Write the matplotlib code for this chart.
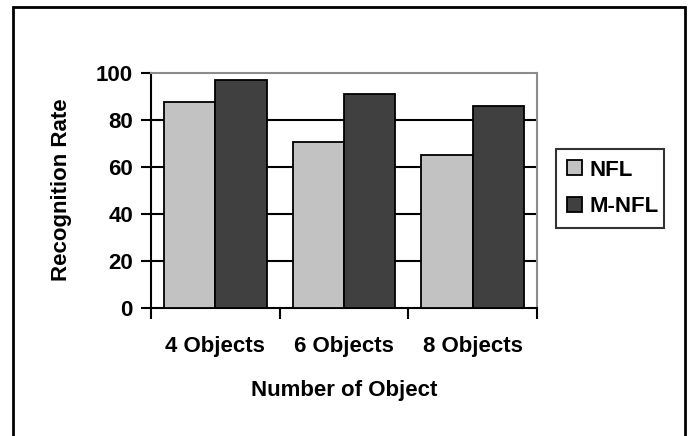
import matplotlib
matplotlib.use("Agg")
import matplotlib.pyplot as plt
import matplotlib.patches as mpatches
import numpy as np

plt.rcParams["font.family"] = ["Liberation Sans", "DejaVu Sans"]
plt.rcParams["font.weight"] = "bold"

categories = ["4 Objects", "6 Objects", "8 Objects"]
nfl = [87.4, 70.6, 65.2]
m_nfl = [96.9, 90.9, 85.7]
yticks = [0, 20, 40, 60, 80, 100]

fig = plt.figure(figsize=(6.9, 4.36), dpi=100)
ax = fig.add_axes([151 / 690, 128 / 436, 386 / 690, 235.3 / 436])

x = np.arange(len(categories))
w = 0.4
ax.bar(x - w / 2, nfl, w, color="#c2c2c2", edgecolor="black", linewidth=1.3, label="NFL", zorder=3)
ax.bar(x + w / 2, m_nfl, w, color="#404040", edgecolor="black", linewidth=1.3, label="M-NFL", zorder=3)

ax.set_xlim(-0.5, len(categories) - 0.5)
ax.set_ylim(0, 100)
ax.set_yticks(yticks)
ax.set_yticklabels([str(v) for v in yticks], fontsize=16, fontweight="bold")
for v in yticks[1:-1]:
    ax.axhline(v, color="black", linewidth=1.5, zorder=1)

# category labels sit between the boundary ticks
ax.set_xticks(x)
ax.set_xticklabels(categories, fontsize=16, fontweight="bold")
ax.tick_params(axis="x", length=0, pad=20)
ax.set_xticks(np.arange(len(categories) + 1) - 0.5, minor=True)
ax.tick_params(axis="x", which="minor", length=8, width=1.5, direction="out")
ax.tick_params(axis="y", length=7, width=1.5, direction="out", pad=6)

for side in ("left", "bottom"):
    ax.spines[side].set_color("black")
    ax.spines[side].set_linewidth(1.5)
for side in ("top", "right"):
    ax.spines[side].set_color("#8c8c8c")
    ax.spines[side].set_linewidth(1.5)

fig.text(61 / 690, 1 - 190 / 436, "Recognition Rate", rotation=90, ha="center", va="center",
         fontsize=16, fontweight="bold")
fig.text(344 / 690, 1 - 390 / 436, "Number of Object", ha="center", va="center",
         fontsize=16, fontweight="bold")

leg = ax.legend(loc="center left", bbox_to_anchor=(556 / 690, 1 - 229 / 436, 108 / 690, 81 / 436),
                bbox_transform=fig.transFigure, mode="expand", frameon=True, fancybox=False,
                prop={"size": 16, "weight": "bold"}, handlelength=0.65, handleheight=0.65,
                handletextpad=0.35, labelspacing=0.7, borderpad=0.5, borderaxespad=0)
leg.get_frame().set_edgecolor("black")
leg.get_frame().set_linewidth(1.5)

# outer chart frame
fig.patches.append(mpatches.Rectangle((13 / 690, -0.1), 672 / 690, 1.1 - 7 / 436, transform=fig.transFigure,
                                      fill=False, edgecolor="black", linewidth=2))

fig.savefig("out.png", dpi=100)
